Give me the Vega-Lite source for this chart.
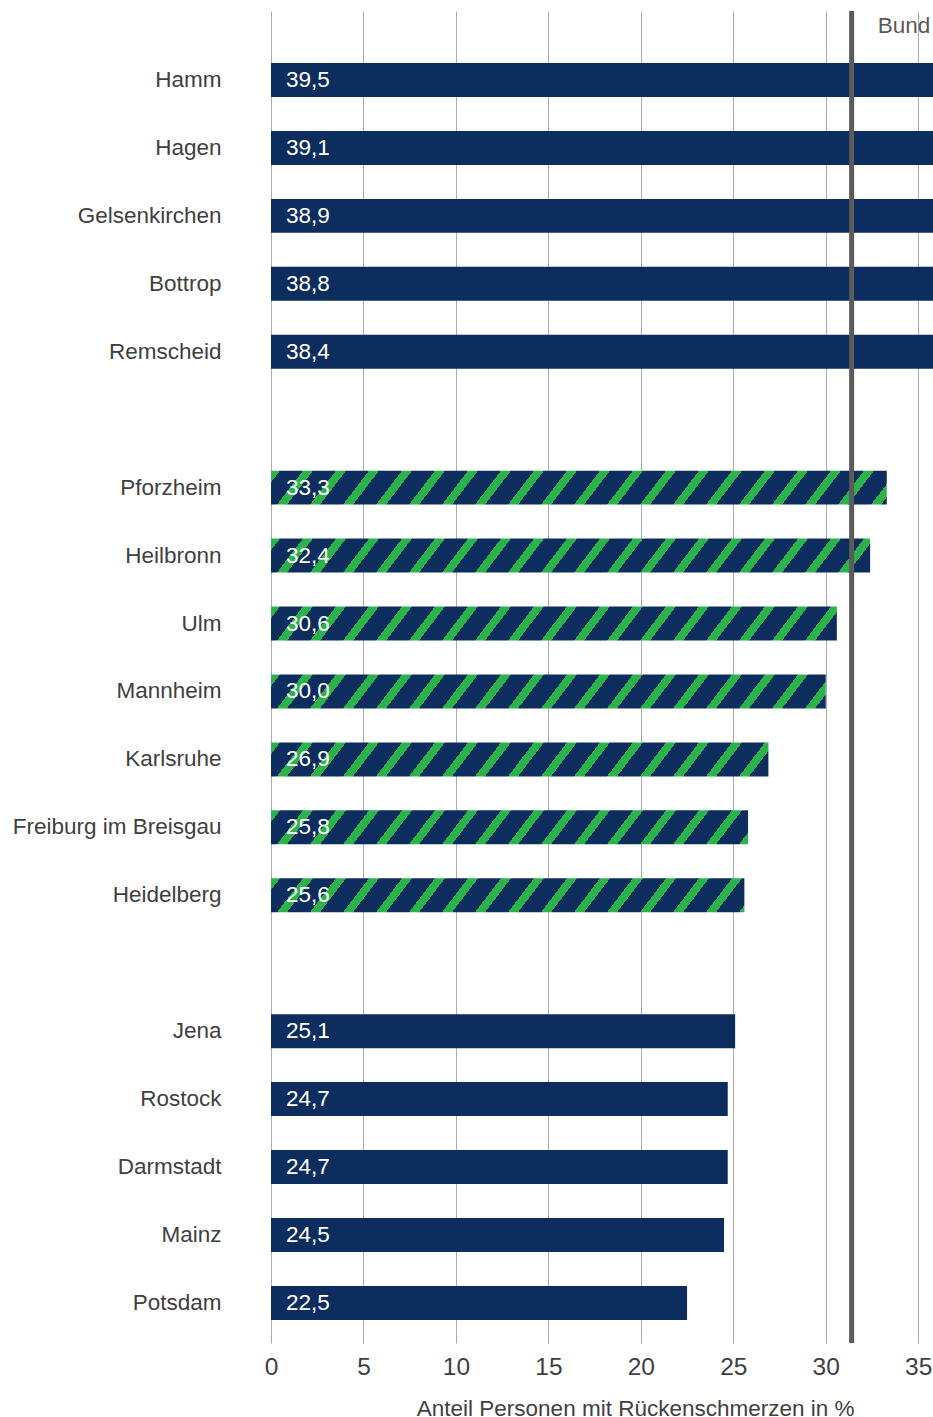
{
  "$schema": "https://vega.github.io/schema/vega-lite/v6.json",
  "autosize": {"type": "none"},
  "padding": {"left": 271, "top": 11, "right": 0, "bottom": 74},
  "width": 662,
  "height": 1332,
  "config": {
    "font": "Liberation Sans",
    "view": {"stroke": null},
    "locale": {"number": {"decimal": ",", "thousands": ".", "grouping": [3], "currency": ["", " €"]}}
  },
  "data": {"values": [
    {"stadt": "Hamm", "anteil": 39.5, "gruppe": "hoch"},
    {"stadt": "Hagen", "anteil": 39.1, "gruppe": "hoch"},
    {"stadt": "Gelsenkirchen", "anteil": 38.9, "gruppe": "hoch"},
    {"stadt": "Bottrop", "anteil": 38.8, "gruppe": "hoch"},
    {"stadt": "Remscheid", "anteil": 38.4, "gruppe": "hoch"},
    {"stadt": "Pforzheim", "anteil": 33.3, "gruppe": "BW"},
    {"stadt": "Heilbronn", "anteil": 32.4, "gruppe": "BW"},
    {"stadt": "Ulm", "anteil": 30.6, "gruppe": "BW"},
    {"stadt": "Mannheim", "anteil": 30.0, "gruppe": "BW"},
    {"stadt": "Karlsruhe", "anteil": 26.9, "gruppe": "BW"},
    {"stadt": "Freiburg im Breisgau", "anteil": 25.8, "gruppe": "BW"},
    {"stadt": "Heidelberg", "anteil": 25.6, "gruppe": "BW"},
    {"stadt": "Jena", "anteil": 25.1, "gruppe": "niedrig"},
    {"stadt": "Rostock", "anteil": 24.7, "gruppe": "niedrig"},
    {"stadt": "Darmstadt", "anteil": 24.7, "gruppe": "niedrig"},
    {"stadt": "Mainz", "anteil": 24.5, "gruppe": "niedrig"},
    {"stadt": "Potsdam", "anteil": 22.5, "gruppe": "niedrig"}
  ]},
  "layer": [
    {
      "mark": {"type": "bar", "clip": true},
      "encoding": {
        "y": {
          "field": "stadt",
          "type": "nominal",
          "title": null,
          "scale": {
            "domain": ["Hamm", "Hagen", "Gelsenkirchen", "Bottrop", "Remscheid", " ", "Pforzheim", "Heilbronn", "Ulm", "Mannheim", "Karlsruhe", "Freiburg im Breisgau", "Heidelberg", "  ", "Jena", "Rostock", "Darmstadt", "Mainz", "Potsdam"],
            "paddingInner": 0.5,
            "paddingOuter": 0.5528,
            "align": 0.6924
          },
          "axis": {
            "domain": false,
            "ticks": false,
            "grid": false,
            "labelPadding": 50,
            "labelFontSize": 22.5,
            "labelColor": "#404040",
            "labelFont": "Liberation Sans",
            "labelLimit": 400
          }
        },
        "x": {
          "field": "anteil",
          "type": "quantitative",
          "scale": {"domain": [0, 35.8], "nice": false, "zero": true},
          "axis": {
            "values": [0, 5, 10, 15, 20, 25, 30, 35],
            "format": "d",
            "domain": false,
            "ticks": false,
            "grid": true,
            "gridColor": "#ababab",
            "gridWidth": 1,
            "labelFlush": false,
            "labelFontSize": 24.5,
            "labelColor": "#404040",
            "labelFont": "Liberation Sans",
            "labelPadding": 12,
            "title": "Anteil Personen mit Rückenschmerzen in %",
            "titleFont": "Liberation Sans",
            "titleFontSize": 22.5,
            "titleFontWeight": "normal",
            "titleColor": "#404040",
            "titleAlign": "right",
            "titleBaseline": "alphabetic",
            "titleX": 583,
            "titleY": 72
          }
        },
        "fill": {
          "condition": [
            {"test": "datum.stadt === 'Pforzheim'", "value": {"gradient": "linear", "x1": 0, "y1": 0, "x2": 1.10234, "y2": 0.046545, "stops": [
{"offset":0,"color":"#2cb24a"},{"offset":0.013235,"color":"#2cb24a"},{"offset":0.013235,"color":"#0d2d5f"},{"offset":0.047059,"color":"#0d2d5f"},{"offset":0.047059,"color":"#2cb24a"},{"offset":0.061765,"color":"#2cb24a"},{"offset":0.061765,"color":"#0d2d5f"},{"offset":0.095588,"color":"#0d2d5f"},{"offset":0.095588,"color":"#2cb24a"},{"offset":0.110294,"color":"#2cb24a"},{"offset":0.110294,"color":"#0d2d5f"},{"offset":0.144118,"color":"#0d2d5f"},{"offset":0.144118,"color":"#2cb24a"},{"offset":0.158824,"color":"#2cb24a"},{"offset":0.158824,"color":"#0d2d5f"},{"offset":0.192647,"color":"#0d2d5f"},{"offset":0.192647,"color":"#2cb24a"},{"offset":0.207353,"color":"#2cb24a"},{"offset":0.207353,"color":"#0d2d5f"},{"offset":0.241176,"color":"#0d2d5f"},{"offset":0.241176,"color":"#2cb24a"},{"offset":0.255882,"color":"#2cb24a"},{"offset":0.255882,"color":"#0d2d5f"},{"offset":0.289706,"color":"#0d2d5f"},{"offset":0.289706,"color":"#2cb24a"},{"offset":0.304412,"color":"#2cb24a"},{"offset":0.304412,"color":"#0d2d5f"},{"offset":0.338235,"color":"#0d2d5f"},{"offset":0.338235,"color":"#2cb24a"},{"offset":0.352941,"color":"#2cb24a"},{"offset":0.352941,"color":"#0d2d5f"},{"offset":0.386765,"color":"#0d2d5f"},{"offset":0.386765,"color":"#2cb24a"},{"offset":0.401471,"color":"#2cb24a"},{"offset":0.401471,"color":"#0d2d5f"},{"offset":0.435294,"color":"#0d2d5f"},{"offset":0.435294,"color":"#2cb24a"},{"offset":0.45,"color":"#2cb24a"},{"offset":0.45,"color":"#0d2d5f"},{"offset":0.483824,"color":"#0d2d5f"},{"offset":0.483824,"color":"#2cb24a"},{"offset":0.498529,"color":"#2cb24a"},{"offset":0.498529,"color":"#0d2d5f"},{"offset":0.532353,"color":"#0d2d5f"},{"offset":0.532353,"color":"#2cb24a"},{"offset":0.547059,"color":"#2cb24a"},{"offset":0.547059,"color":"#0d2d5f"},{"offset":0.580882,"color":"#0d2d5f"},{"offset":0.580882,"color":"#2cb24a"},{"offset":0.595588,"color":"#2cb24a"},{"offset":0.595588,"color":"#0d2d5f"},{"offset":0.629412,"color":"#0d2d5f"},{"offset":0.629412,"color":"#2cb24a"},{"offset":0.644118,"color":"#2cb24a"},{"offset":0.644118,"color":"#0d2d5f"},{"offset":0.677941,"color":"#0d2d5f"},{"offset":0.677941,"color":"#2cb24a"},{"offset":0.692647,"color":"#2cb24a"},{"offset":0.692647,"color":"#0d2d5f"},{"offset":0.726471,"color":"#0d2d5f"},{"offset":0.726471,"color":"#2cb24a"},{"offset":0.741176,"color":"#2cb24a"},{"offset":0.741176,"color":"#0d2d5f"},{"offset":0.775,"color":"#0d2d5f"},{"offset":0.775,"color":"#2cb24a"},{"offset":0.789706,"color":"#2cb24a"},{"offset":0.789706,"color":"#0d2d5f"},{"offset":0.823529,"color":"#0d2d5f"},{"offset":0.823529,"color":"#2cb24a"},{"offset":0.838235,"color":"#2cb24a"},{"offset":0.838235,"color":"#0d2d5f"},{"offset":0.872059,"color":"#0d2d5f"},{"offset":0.872059,"color":"#2cb24a"},{"offset":0.886765,"color":"#2cb24a"},{"offset":0.886765,"color":"#0d2d5f"},{"offset":0.920588,"color":"#0d2d5f"},{"offset":0.920588,"color":"#2cb24a"},{"offset":0.935294,"color":"#2cb24a"},{"offset":0.935294,"color":"#0d2d5f"},{"offset":0.969118,"color":"#0d2d5f"},{"offset":0.969118,"color":"#2cb24a"},{"offset":0.983824,"color":"#2cb24a"},{"offset":0.983824,"color":"#0d2d5f"},{"offset":1,"color":"#0d2d5f"}]}},
            {"test": "datum.stadt === 'Heilbronn'", "value": {"gradient": "linear", "x1": 0, "y1": 0, "x2": 1.13284, "y2": 0.049161, "stops": [
{"offset":0,"color":"#2cb24a"},{"offset":0.013235,"color":"#2cb24a"},{"offset":0.013235,"color":"#0d2d5f"},{"offset":0.047059,"color":"#0d2d5f"},{"offset":0.047059,"color":"#2cb24a"},{"offset":0.061765,"color":"#2cb24a"},{"offset":0.061765,"color":"#0d2d5f"},{"offset":0.095588,"color":"#0d2d5f"},{"offset":0.095588,"color":"#2cb24a"},{"offset":0.110294,"color":"#2cb24a"},{"offset":0.110294,"color":"#0d2d5f"},{"offset":0.144118,"color":"#0d2d5f"},{"offset":0.144118,"color":"#2cb24a"},{"offset":0.158824,"color":"#2cb24a"},{"offset":0.158824,"color":"#0d2d5f"},{"offset":0.192647,"color":"#0d2d5f"},{"offset":0.192647,"color":"#2cb24a"},{"offset":0.207353,"color":"#2cb24a"},{"offset":0.207353,"color":"#0d2d5f"},{"offset":0.241176,"color":"#0d2d5f"},{"offset":0.241176,"color":"#2cb24a"},{"offset":0.255882,"color":"#2cb24a"},{"offset":0.255882,"color":"#0d2d5f"},{"offset":0.289706,"color":"#0d2d5f"},{"offset":0.289706,"color":"#2cb24a"},{"offset":0.304412,"color":"#2cb24a"},{"offset":0.304412,"color":"#0d2d5f"},{"offset":0.338235,"color":"#0d2d5f"},{"offset":0.338235,"color":"#2cb24a"},{"offset":0.352941,"color":"#2cb24a"},{"offset":0.352941,"color":"#0d2d5f"},{"offset":0.386765,"color":"#0d2d5f"},{"offset":0.386765,"color":"#2cb24a"},{"offset":0.401471,"color":"#2cb24a"},{"offset":0.401471,"color":"#0d2d5f"},{"offset":0.435294,"color":"#0d2d5f"},{"offset":0.435294,"color":"#2cb24a"},{"offset":0.45,"color":"#2cb24a"},{"offset":0.45,"color":"#0d2d5f"},{"offset":0.483824,"color":"#0d2d5f"},{"offset":0.483824,"color":"#2cb24a"},{"offset":0.498529,"color":"#2cb24a"},{"offset":0.498529,"color":"#0d2d5f"},{"offset":0.532353,"color":"#0d2d5f"},{"offset":0.532353,"color":"#2cb24a"},{"offset":0.547059,"color":"#2cb24a"},{"offset":0.547059,"color":"#0d2d5f"},{"offset":0.580882,"color":"#0d2d5f"},{"offset":0.580882,"color":"#2cb24a"},{"offset":0.595588,"color":"#2cb24a"},{"offset":0.595588,"color":"#0d2d5f"},{"offset":0.629412,"color":"#0d2d5f"},{"offset":0.629412,"color":"#2cb24a"},{"offset":0.644118,"color":"#2cb24a"},{"offset":0.644118,"color":"#0d2d5f"},{"offset":0.677941,"color":"#0d2d5f"},{"offset":0.677941,"color":"#2cb24a"},{"offset":0.692647,"color":"#2cb24a"},{"offset":0.692647,"color":"#0d2d5f"},{"offset":0.726471,"color":"#0d2d5f"},{"offset":0.726471,"color":"#2cb24a"},{"offset":0.741176,"color":"#2cb24a"},{"offset":0.741176,"color":"#0d2d5f"},{"offset":0.775,"color":"#0d2d5f"},{"offset":0.775,"color":"#2cb24a"},{"offset":0.789706,"color":"#2cb24a"},{"offset":0.789706,"color":"#0d2d5f"},{"offset":0.823529,"color":"#0d2d5f"},{"offset":0.823529,"color":"#2cb24a"},{"offset":0.838235,"color":"#2cb24a"},{"offset":0.838235,"color":"#0d2d5f"},{"offset":0.872059,"color":"#0d2d5f"},{"offset":0.872059,"color":"#2cb24a"},{"offset":0.886765,"color":"#2cb24a"},{"offset":0.886765,"color":"#0d2d5f"},{"offset":0.920588,"color":"#0d2d5f"},{"offset":0.920588,"color":"#2cb24a"},{"offset":0.935294,"color":"#2cb24a"},{"offset":0.935294,"color":"#0d2d5f"},{"offset":0.969118,"color":"#0d2d5f"},{"offset":0.969118,"color":"#2cb24a"},{"offset":0.983824,"color":"#2cb24a"},{"offset":0.983824,"color":"#0d2d5f"},{"offset":1,"color":"#0d2d5f"}]}},
            {"test": "datum.stadt === 'Ulm'", "value": {"gradient": "linear", "x1": 0, "y1": 0, "x2": 1.19923, "y2": 0.055103, "stops": [
{"offset":0,"color":"#2cb24a"},{"offset":0.013235,"color":"#2cb24a"},{"offset":0.013235,"color":"#0d2d5f"},{"offset":0.047059,"color":"#0d2d5f"},{"offset":0.047059,"color":"#2cb24a"},{"offset":0.061765,"color":"#2cb24a"},{"offset":0.061765,"color":"#0d2d5f"},{"offset":0.095588,"color":"#0d2d5f"},{"offset":0.095588,"color":"#2cb24a"},{"offset":0.110294,"color":"#2cb24a"},{"offset":0.110294,"color":"#0d2d5f"},{"offset":0.144118,"color":"#0d2d5f"},{"offset":0.144118,"color":"#2cb24a"},{"offset":0.158824,"color":"#2cb24a"},{"offset":0.158824,"color":"#0d2d5f"},{"offset":0.192647,"color":"#0d2d5f"},{"offset":0.192647,"color":"#2cb24a"},{"offset":0.207353,"color":"#2cb24a"},{"offset":0.207353,"color":"#0d2d5f"},{"offset":0.241176,"color":"#0d2d5f"},{"offset":0.241176,"color":"#2cb24a"},{"offset":0.255882,"color":"#2cb24a"},{"offset":0.255882,"color":"#0d2d5f"},{"offset":0.289706,"color":"#0d2d5f"},{"offset":0.289706,"color":"#2cb24a"},{"offset":0.304412,"color":"#2cb24a"},{"offset":0.304412,"color":"#0d2d5f"},{"offset":0.338235,"color":"#0d2d5f"},{"offset":0.338235,"color":"#2cb24a"},{"offset":0.352941,"color":"#2cb24a"},{"offset":0.352941,"color":"#0d2d5f"},{"offset":0.386765,"color":"#0d2d5f"},{"offset":0.386765,"color":"#2cb24a"},{"offset":0.401471,"color":"#2cb24a"},{"offset":0.401471,"color":"#0d2d5f"},{"offset":0.435294,"color":"#0d2d5f"},{"offset":0.435294,"color":"#2cb24a"},{"offset":0.45,"color":"#2cb24a"},{"offset":0.45,"color":"#0d2d5f"},{"offset":0.483824,"color":"#0d2d5f"},{"offset":0.483824,"color":"#2cb24a"},{"offset":0.498529,"color":"#2cb24a"},{"offset":0.498529,"color":"#0d2d5f"},{"offset":0.532353,"color":"#0d2d5f"},{"offset":0.532353,"color":"#2cb24a"},{"offset":0.547059,"color":"#2cb24a"},{"offset":0.547059,"color":"#0d2d5f"},{"offset":0.580882,"color":"#0d2d5f"},{"offset":0.580882,"color":"#2cb24a"},{"offset":0.595588,"color":"#2cb24a"},{"offset":0.595588,"color":"#0d2d5f"},{"offset":0.629412,"color":"#0d2d5f"},{"offset":0.629412,"color":"#2cb24a"},{"offset":0.644118,"color":"#2cb24a"},{"offset":0.644118,"color":"#0d2d5f"},{"offset":0.677941,"color":"#0d2d5f"},{"offset":0.677941,"color":"#2cb24a"},{"offset":0.692647,"color":"#2cb24a"},{"offset":0.692647,"color":"#0d2d5f"},{"offset":0.726471,"color":"#0d2d5f"},{"offset":0.726471,"color":"#2cb24a"},{"offset":0.741176,"color":"#2cb24a"},{"offset":0.741176,"color":"#0d2d5f"},{"offset":0.775,"color":"#0d2d5f"},{"offset":0.775,"color":"#2cb24a"},{"offset":0.789706,"color":"#2cb24a"},{"offset":0.789706,"color":"#0d2d5f"},{"offset":0.823529,"color":"#0d2d5f"},{"offset":0.823529,"color":"#2cb24a"},{"offset":0.838235,"color":"#2cb24a"},{"offset":0.838235,"color":"#0d2d5f"},{"offset":0.872059,"color":"#0d2d5f"},{"offset":0.872059,"color":"#2cb24a"},{"offset":0.886765,"color":"#2cb24a"},{"offset":0.886765,"color":"#0d2d5f"},{"offset":0.920588,"color":"#0d2d5f"},{"offset":0.920588,"color":"#2cb24a"},{"offset":0.935294,"color":"#2cb24a"},{"offset":0.935294,"color":"#0d2d5f"},{"offset":0.969118,"color":"#0d2d5f"},{"offset":0.969118,"color":"#2cb24a"},{"offset":0.983824,"color":"#2cb24a"},{"offset":0.983824,"color":"#0d2d5f"},{"offset":1,"color":"#0d2d5f"}]}},
            {"test": "datum.stadt === 'Mannheim'", "value": {"gradient": "linear", "x1": 0, "y1": 0, "x2": 1.22309, "y2": 0.057324, "stops": [
{"offset":0,"color":"#2cb24a"},{"offset":0.013235,"color":"#2cb24a"},{"offset":0.013235,"color":"#0d2d5f"},{"offset":0.047059,"color":"#0d2d5f"},{"offset":0.047059,"color":"#2cb24a"},{"offset":0.061765,"color":"#2cb24a"},{"offset":0.061765,"color":"#0d2d5f"},{"offset":0.095588,"color":"#0d2d5f"},{"offset":0.095588,"color":"#2cb24a"},{"offset":0.110294,"color":"#2cb24a"},{"offset":0.110294,"color":"#0d2d5f"},{"offset":0.144118,"color":"#0d2d5f"},{"offset":0.144118,"color":"#2cb24a"},{"offset":0.158824,"color":"#2cb24a"},{"offset":0.158824,"color":"#0d2d5f"},{"offset":0.192647,"color":"#0d2d5f"},{"offset":0.192647,"color":"#2cb24a"},{"offset":0.207353,"color":"#2cb24a"},{"offset":0.207353,"color":"#0d2d5f"},{"offset":0.241176,"color":"#0d2d5f"},{"offset":0.241176,"color":"#2cb24a"},{"offset":0.255882,"color":"#2cb24a"},{"offset":0.255882,"color":"#0d2d5f"},{"offset":0.289706,"color":"#0d2d5f"},{"offset":0.289706,"color":"#2cb24a"},{"offset":0.304412,"color":"#2cb24a"},{"offset":0.304412,"color":"#0d2d5f"},{"offset":0.338235,"color":"#0d2d5f"},{"offset":0.338235,"color":"#2cb24a"},{"offset":0.352941,"color":"#2cb24a"},{"offset":0.352941,"color":"#0d2d5f"},{"offset":0.386765,"color":"#0d2d5f"},{"offset":0.386765,"color":"#2cb24a"},{"offset":0.401471,"color":"#2cb24a"},{"offset":0.401471,"color":"#0d2d5f"},{"offset":0.435294,"color":"#0d2d5f"},{"offset":0.435294,"color":"#2cb24a"},{"offset":0.45,"color":"#2cb24a"},{"offset":0.45,"color":"#0d2d5f"},{"offset":0.483824,"color":"#0d2d5f"},{"offset":0.483824,"color":"#2cb24a"},{"offset":0.498529,"color":"#2cb24a"},{"offset":0.498529,"color":"#0d2d5f"},{"offset":0.532353,"color":"#0d2d5f"},{"offset":0.532353,"color":"#2cb24a"},{"offset":0.547059,"color":"#2cb24a"},{"offset":0.547059,"color":"#0d2d5f"},{"offset":0.580882,"color":"#0d2d5f"},{"offset":0.580882,"color":"#2cb24a"},{"offset":0.595588,"color":"#2cb24a"},{"offset":0.595588,"color":"#0d2d5f"},{"offset":0.629412,"color":"#0d2d5f"},{"offset":0.629412,"color":"#2cb24a"},{"offset":0.644118,"color":"#2cb24a"},{"offset":0.644118,"color":"#0d2d5f"},{"offset":0.677941,"color":"#0d2d5f"},{"offset":0.677941,"color":"#2cb24a"},{"offset":0.692647,"color":"#2cb24a"},{"offset":0.692647,"color":"#0d2d5f"},{"offset":0.726471,"color":"#0d2d5f"},{"offset":0.726471,"color":"#2cb24a"},{"offset":0.741176,"color":"#2cb24a"},{"offset":0.741176,"color":"#0d2d5f"},{"offset":0.775,"color":"#0d2d5f"},{"offset":0.775,"color":"#2cb24a"},{"offset":0.789706,"color":"#2cb24a"},{"offset":0.789706,"color":"#0d2d5f"},{"offset":0.823529,"color":"#0d2d5f"},{"offset":0.823529,"color":"#2cb24a"},{"offset":0.838235,"color":"#2cb24a"},{"offset":0.838235,"color":"#0d2d5f"},{"offset":0.872059,"color":"#0d2d5f"},{"offset":0.872059,"color":"#2cb24a"},{"offset":0.886765,"color":"#2cb24a"},{"offset":0.886765,"color":"#0d2d5f"},{"offset":0.920588,"color":"#0d2d5f"},{"offset":0.920588,"color":"#2cb24a"},{"offset":0.935294,"color":"#2cb24a"},{"offset":0.935294,"color":"#0d2d5f"},{"offset":0.969118,"color":"#0d2d5f"},{"offset":0.969118,"color":"#2cb24a"},{"offset":0.983824,"color":"#2cb24a"},{"offset":0.983824,"color":"#0d2d5f"},{"offset":1,"color":"#0d2d5f"}]}},
            {"test": "datum.stadt === 'Karlsruhe'", "value": {"gradient": "linear", "x1": 0, "y1": 0, "x2": 1.36333, "y2": 0.071261, "stops": [
{"offset":0,"color":"#2cb24a"},{"offset":0.013235,"color":"#2cb24a"},{"offset":0.013235,"color":"#0d2d5f"},{"offset":0.047059,"color":"#0d2d5f"},{"offset":0.047059,"color":"#2cb24a"},{"offset":0.061765,"color":"#2cb24a"},{"offset":0.061765,"color":"#0d2d5f"},{"offset":0.095588,"color":"#0d2d5f"},{"offset":0.095588,"color":"#2cb24a"},{"offset":0.110294,"color":"#2cb24a"},{"offset":0.110294,"color":"#0d2d5f"},{"offset":0.144118,"color":"#0d2d5f"},{"offset":0.144118,"color":"#2cb24a"},{"offset":0.158824,"color":"#2cb24a"},{"offset":0.158824,"color":"#0d2d5f"},{"offset":0.192647,"color":"#0d2d5f"},{"offset":0.192647,"color":"#2cb24a"},{"offset":0.207353,"color":"#2cb24a"},{"offset":0.207353,"color":"#0d2d5f"},{"offset":0.241176,"color":"#0d2d5f"},{"offset":0.241176,"color":"#2cb24a"},{"offset":0.255882,"color":"#2cb24a"},{"offset":0.255882,"color":"#0d2d5f"},{"offset":0.289706,"color":"#0d2d5f"},{"offset":0.289706,"color":"#2cb24a"},{"offset":0.304412,"color":"#2cb24a"},{"offset":0.304412,"color":"#0d2d5f"},{"offset":0.338235,"color":"#0d2d5f"},{"offset":0.338235,"color":"#2cb24a"},{"offset":0.352941,"color":"#2cb24a"},{"offset":0.352941,"color":"#0d2d5f"},{"offset":0.386765,"color":"#0d2d5f"},{"offset":0.386765,"color":"#2cb24a"},{"offset":0.401471,"color":"#2cb24a"},{"offset":0.401471,"color":"#0d2d5f"},{"offset":0.435294,"color":"#0d2d5f"},{"offset":0.435294,"color":"#2cb24a"},{"offset":0.45,"color":"#2cb24a"},{"offset":0.45,"color":"#0d2d5f"},{"offset":0.483824,"color":"#0d2d5f"},{"offset":0.483824,"color":"#2cb24a"},{"offset":0.498529,"color":"#2cb24a"},{"offset":0.498529,"color":"#0d2d5f"},{"offset":0.532353,"color":"#0d2d5f"},{"offset":0.532353,"color":"#2cb24a"},{"offset":0.547059,"color":"#2cb24a"},{"offset":0.547059,"color":"#0d2d5f"},{"offset":0.580882,"color":"#0d2d5f"},{"offset":0.580882,"color":"#2cb24a"},{"offset":0.595588,"color":"#2cb24a"},{"offset":0.595588,"color":"#0d2d5f"},{"offset":0.629412,"color":"#0d2d5f"},{"offset":0.629412,"color":"#2cb24a"},{"offset":0.644118,"color":"#2cb24a"},{"offset":0.644118,"color":"#0d2d5f"},{"offset":0.677941,"color":"#0d2d5f"},{"offset":0.677941,"color":"#2cb24a"},{"offset":0.692647,"color":"#2cb24a"},{"offset":0.692647,"color":"#0d2d5f"},{"offset":0.726471,"color":"#0d2d5f"},{"offset":0.726471,"color":"#2cb24a"},{"offset":0.741176,"color":"#2cb24a"},{"offset":0.741176,"color":"#0d2d5f"},{"offset":0.775,"color":"#0d2d5f"},{"offset":0.775,"color":"#2cb24a"},{"offset":0.789706,"color":"#2cb24a"},{"offset":0.789706,"color":"#0d2d5f"},{"offset":0.823529,"color":"#0d2d5f"},{"offset":0.823529,"color":"#2cb24a"},{"offset":0.838235,"color":"#2cb24a"},{"offset":0.838235,"color":"#0d2d5f"},{"offset":0.872059,"color":"#0d2d5f"},{"offset":0.872059,"color":"#2cb24a"},{"offset":0.886765,"color":"#2cb24a"},{"offset":0.886765,"color":"#0d2d5f"},{"offset":0.920588,"color":"#0d2d5f"},{"offset":0.920588,"color":"#2cb24a"},{"offset":0.935294,"color":"#2cb24a"},{"offset":0.935294,"color":"#0d2d5f"},{"offset":0.969118,"color":"#0d2d5f"},{"offset":0.969118,"color":"#2cb24a"},{"offset":0.983824,"color":"#2cb24a"},{"offset":0.983824,"color":"#0d2d5f"},{"offset":1,"color":"#0d2d5f"}]}},
            {"test": "datum.stadt === 'Freiburg im Breisgau'", "value": {"gradient": "linear", "x1": 0, "y1": 0, "x2": 1.42111, "y2": 0.077448, "stops": [
{"offset":0,"color":"#2cb24a"},{"offset":0.013235,"color":"#2cb24a"},{"offset":0.013235,"color":"#0d2d5f"},{"offset":0.047059,"color":"#0d2d5f"},{"offset":0.047059,"color":"#2cb24a"},{"offset":0.061765,"color":"#2cb24a"},{"offset":0.061765,"color":"#0d2d5f"},{"offset":0.095588,"color":"#0d2d5f"},{"offset":0.095588,"color":"#2cb24a"},{"offset":0.110294,"color":"#2cb24a"},{"offset":0.110294,"color":"#0d2d5f"},{"offset":0.144118,"color":"#0d2d5f"},{"offset":0.144118,"color":"#2cb24a"},{"offset":0.158824,"color":"#2cb24a"},{"offset":0.158824,"color":"#0d2d5f"},{"offset":0.192647,"color":"#0d2d5f"},{"offset":0.192647,"color":"#2cb24a"},{"offset":0.207353,"color":"#2cb24a"},{"offset":0.207353,"color":"#0d2d5f"},{"offset":0.241176,"color":"#0d2d5f"},{"offset":0.241176,"color":"#2cb24a"},{"offset":0.255882,"color":"#2cb24a"},{"offset":0.255882,"color":"#0d2d5f"},{"offset":0.289706,"color":"#0d2d5f"},{"offset":0.289706,"color":"#2cb24a"},{"offset":0.304412,"color":"#2cb24a"},{"offset":0.304412,"color":"#0d2d5f"},{"offset":0.338235,"color":"#0d2d5f"},{"offset":0.338235,"color":"#2cb24a"},{"offset":0.352941,"color":"#2cb24a"},{"offset":0.352941,"color":"#0d2d5f"},{"offset":0.386765,"color":"#0d2d5f"},{"offset":0.386765,"color":"#2cb24a"},{"offset":0.401471,"color":"#2cb24a"},{"offset":0.401471,"color":"#0d2d5f"},{"offset":0.435294,"color":"#0d2d5f"},{"offset":0.435294,"color":"#2cb24a"},{"offset":0.45,"color":"#2cb24a"},{"offset":0.45,"color":"#0d2d5f"},{"offset":0.483824,"color":"#0d2d5f"},{"offset":0.483824,"color":"#2cb24a"},{"offset":0.498529,"color":"#2cb24a"},{"offset":0.498529,"color":"#0d2d5f"},{"offset":0.532353,"color":"#0d2d5f"},{"offset":0.532353,"color":"#2cb24a"},{"offset":0.547059,"color":"#2cb24a"},{"offset":0.547059,"color":"#0d2d5f"},{"offset":0.580882,"color":"#0d2d5f"},{"offset":0.580882,"color":"#2cb24a"},{"offset":0.595588,"color":"#2cb24a"},{"offset":0.595588,"color":"#0d2d5f"},{"offset":0.629412,"color":"#0d2d5f"},{"offset":0.629412,"color":"#2cb24a"},{"offset":0.644118,"color":"#2cb24a"},{"offset":0.644118,"color":"#0d2d5f"},{"offset":0.677941,"color":"#0d2d5f"},{"offset":0.677941,"color":"#2cb24a"},{"offset":0.692647,"color":"#2cb24a"},{"offset":0.692647,"color":"#0d2d5f"},{"offset":0.726471,"color":"#0d2d5f"},{"offset":0.726471,"color":"#2cb24a"},{"offset":0.741176,"color":"#2cb24a"},{"offset":0.741176,"color":"#0d2d5f"},{"offset":0.775,"color":"#0d2d5f"},{"offset":0.775,"color":"#2cb24a"},{"offset":0.789706,"color":"#2cb24a"},{"offset":0.789706,"color":"#0d2d5f"},{"offset":0.823529,"color":"#0d2d5f"},{"offset":0.823529,"color":"#2cb24a"},{"offset":0.838235,"color":"#2cb24a"},{"offset":0.838235,"color":"#0d2d5f"},{"offset":0.872059,"color":"#0d2d5f"},{"offset":0.872059,"color":"#2cb24a"},{"offset":0.886765,"color":"#2cb24a"},{"offset":0.886765,"color":"#0d2d5f"},{"offset":0.920588,"color":"#0d2d5f"},{"offset":0.920588,"color":"#2cb24a"},{"offset":0.935294,"color":"#2cb24a"},{"offset":0.935294,"color":"#0d2d5f"},{"offset":0.969118,"color":"#0d2d5f"},{"offset":0.969118,"color":"#2cb24a"},{"offset":0.983824,"color":"#2cb24a"},{"offset":0.983824,"color":"#0d2d5f"},{"offset":1,"color":"#0d2d5f"}]}},
            {"test": "datum.stadt === 'Heidelberg'", "value": {"gradient": "linear", "x1": 0, "y1": 0, "x2": 1.43216, "y2": 0.07866, "stops": [
{"offset":0,"color":"#2cb24a"},{"offset":0.013235,"color":"#2cb24a"},{"offset":0.013235,"color":"#0d2d5f"},{"offset":0.047059,"color":"#0d2d5f"},{"offset":0.047059,"color":"#2cb24a"},{"offset":0.061765,"color":"#2cb24a"},{"offset":0.061765,"color":"#0d2d5f"},{"offset":0.095588,"color":"#0d2d5f"},{"offset":0.095588,"color":"#2cb24a"},{"offset":0.110294,"color":"#2cb24a"},{"offset":0.110294,"color":"#0d2d5f"},{"offset":0.144118,"color":"#0d2d5f"},{"offset":0.144118,"color":"#2cb24a"},{"offset":0.158824,"color":"#2cb24a"},{"offset":0.158824,"color":"#0d2d5f"},{"offset":0.192647,"color":"#0d2d5f"},{"offset":0.192647,"color":"#2cb24a"},{"offset":0.207353,"color":"#2cb24a"},{"offset":0.207353,"color":"#0d2d5f"},{"offset":0.241176,"color":"#0d2d5f"},{"offset":0.241176,"color":"#2cb24a"},{"offset":0.255882,"color":"#2cb24a"},{"offset":0.255882,"color":"#0d2d5f"},{"offset":0.289706,"color":"#0d2d5f"},{"offset":0.289706,"color":"#2cb24a"},{"offset":0.304412,"color":"#2cb24a"},{"offset":0.304412,"color":"#0d2d5f"},{"offset":0.338235,"color":"#0d2d5f"},{"offset":0.338235,"color":"#2cb24a"},{"offset":0.352941,"color":"#2cb24a"},{"offset":0.352941,"color":"#0d2d5f"},{"offset":0.386765,"color":"#0d2d5f"},{"offset":0.386765,"color":"#2cb24a"},{"offset":0.401471,"color":"#2cb24a"},{"offset":0.401471,"color":"#0d2d5f"},{"offset":0.435294,"color":"#0d2d5f"},{"offset":0.435294,"color":"#2cb24a"},{"offset":0.45,"color":"#2cb24a"},{"offset":0.45,"color":"#0d2d5f"},{"offset":0.483824,"color":"#0d2d5f"},{"offset":0.483824,"color":"#2cb24a"},{"offset":0.498529,"color":"#2cb24a"},{"offset":0.498529,"color":"#0d2d5f"},{"offset":0.532353,"color":"#0d2d5f"},{"offset":0.532353,"color":"#2cb24a"},{"offset":0.547059,"color":"#2cb24a"},{"offset":0.547059,"color":"#0d2d5f"},{"offset":0.580882,"color":"#0d2d5f"},{"offset":0.580882,"color":"#2cb24a"},{"offset":0.595588,"color":"#2cb24a"},{"offset":0.595588,"color":"#0d2d5f"},{"offset":0.629412,"color":"#0d2d5f"},{"offset":0.629412,"color":"#2cb24a"},{"offset":0.644118,"color":"#2cb24a"},{"offset":0.644118,"color":"#0d2d5f"},{"offset":0.677941,"color":"#0d2d5f"},{"offset":0.677941,"color":"#2cb24a"},{"offset":0.692647,"color":"#2cb24a"},{"offset":0.692647,"color":"#0d2d5f"},{"offset":0.726471,"color":"#0d2d5f"},{"offset":0.726471,"color":"#2cb24a"},{"offset":0.741176,"color":"#2cb24a"},{"offset":0.741176,"color":"#0d2d5f"},{"offset":0.775,"color":"#0d2d5f"},{"offset":0.775,"color":"#2cb24a"},{"offset":0.789706,"color":"#2cb24a"},{"offset":0.789706,"color":"#0d2d5f"},{"offset":0.823529,"color":"#0d2d5f"},{"offset":0.823529,"color":"#2cb24a"},{"offset":0.838235,"color":"#2cb24a"},{"offset":0.838235,"color":"#0d2d5f"},{"offset":0.872059,"color":"#0d2d5f"},{"offset":0.872059,"color":"#2cb24a"},{"offset":0.886765,"color":"#2cb24a"},{"offset":0.886765,"color":"#0d2d5f"},{"offset":0.920588,"color":"#0d2d5f"},{"offset":0.920588,"color":"#2cb24a"},{"offset":0.935294,"color":"#2cb24a"},{"offset":0.935294,"color":"#0d2d5f"},{"offset":0.969118,"color":"#0d2d5f"},{"offset":0.969118,"color":"#2cb24a"},{"offset":0.983824,"color":"#2cb24a"},{"offset":0.983824,"color":"#0d2d5f"},{"offset":1,"color":"#0d2d5f"}]}}
          ],
          "value": "#0d2d5f"
        }
      }
    },
    {
      "mark": {"type": "text", "align": "left", "baseline": "middle", "dx": 15, "fontSize": 22.5, "font": "Liberation Sans", "color": "#ffffff"},
      "encoding": {
        "y": {"field": "stadt", "type": "nominal"},
        "x": {"datum": 0, "type": "quantitative"},
        "text": {"field": "anteil", "type": "quantitative", "format": ".1f"}
      }
    },
    {
      "data": {"values": [{"bezug": "Bund", "anteil": 31.4}]},
      "mark": {"type": "rule", "color": "#5b5b5b", "strokeWidth": 5},
      "encoding": {
        "x": {"field": "anteil", "type": "quantitative"}
      }
    },
    {
      "data": {"values": [{"bezug": "Bund", "anteil": 31.4}]},
      "mark": {"type": "text", "align": "left", "baseline": "alphabetic", "dx": 26, "fontSize": 22.5, "font": "Liberation Sans", "color": "#595959"},
      "encoding": {
        "x": {"field": "anteil", "type": "quantitative"},
        "y": {"value": 22},
        "text": {"field": "bezug"}
      }
    }
  ]
}
